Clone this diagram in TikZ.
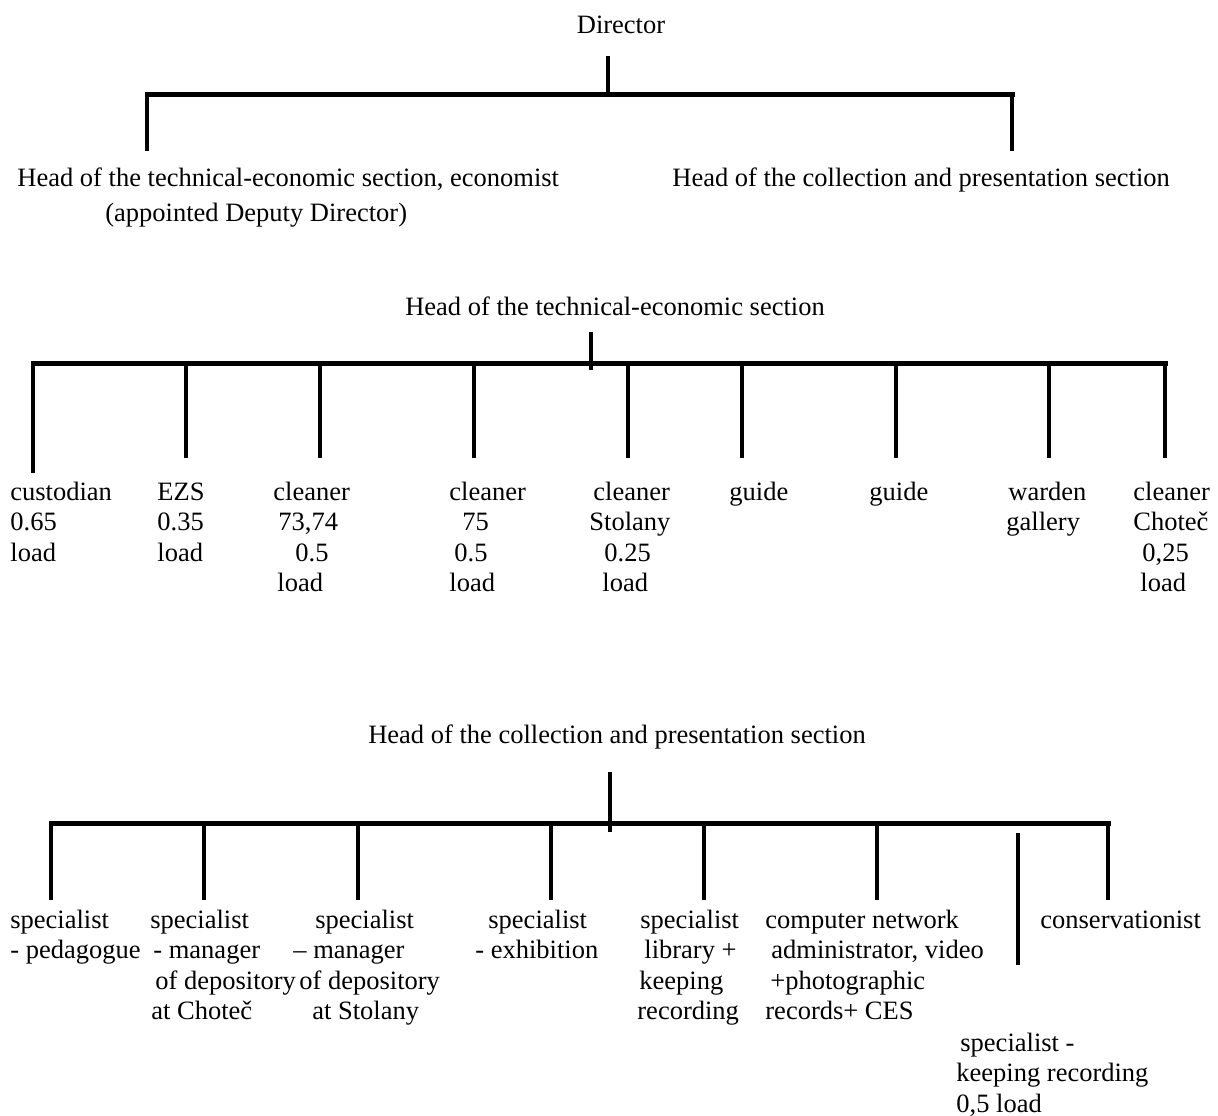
\documentclass[tikz,border=0pt]{standalone}
\usepackage{fontspec}
\setmainfont{Liberation Serif}
\newcommand{\lbltext}[1]{\begin{tabular}[t]{@{}l@{}}#1\end{tabular}}
\begin{document}
\begin{tikzpicture}[x=0.5pt, y=-0.5pt,
    every node/.style={font=\fontsize{13.25pt}{15.3pt}\selectfont},
    bus/.style={line width=2.5pt, line cap=rect},
    drop/.style={line width=2.2pt},
    head/.style={anchor=base, inner sep=0pt},
    lbl/.style={anchor=base west, inner sep=0pt}]
\useasboundingbox (0,0) rectangle (1218,1115);

% top level
\node[head] (dir) at (621,33) {Director};
\node[lbl] (deputy) at (17,186) {\lbltext{Head of the technical-economic section, economist\\[2.3pt]
    \hspace*{44pt}(appointed Deputy Director)}};
\node[lbl] (collect) at (672,186) {Head of the collection and presentation section};
\coordinate (ds) at (608,56);
\coordinate (dj) at (608,94);
\coordinate (dl) at (147,94);
\coordinate (dr) at (1012,94);
\draw[drop] (ds) -- (dj);
\draw[bus] (dl) -- (dr);
\draw[drop] (dl) -- (147,151);
\draw[drop] (dr) -- (1012,151);

% technical-economic section
\node[head] (tech) at (615,315) {Head of the technical-economic section};
\coordinate (ts) at (591,332);
\coordinate (tj) at (591,370);
\coordinate (tl) at (33,363);
\coordinate (tr) at (1165,363);
\draw[drop] (ts) -- (tj);
\draw[bus] (tl) -- (tr);
\draw[drop] (tl) -- (33,473);
\foreach \x [count=\i] in {186,320,474,628,742,896,1049,1165} {
    \coordinate (tu\i) at (\x,363);
    \coordinate (tb\i) at (\x,458);
    \draw[drop] (tu\i) -- (tb\i);
}
\node[lbl] (t1) at (10,500) {\lbltext{custodian\\0.65\\load}};
\node[lbl] (t2) at (157,500) {\lbltext{EZS\\0.35\\load}};
\node[lbl] (t3) at (273,500) {\lbltext{cleaner\\\hspace*{2.5pt}73,74\\\hspace*{11pt}0.5\\\hspace*{2pt}load}};
\node[lbl] (t4) at (449,500) {\lbltext{cleaner\\\hspace*{6.5pt}75\\\hspace*{2.5pt}0.5\\load}};
\node[lbl] (t5) at (589,500) {\lbltext{\hspace*{2pt}cleaner\\Stolany\\\hspace*{7.5pt}0.25\\\hspace*{6.5pt}load}};
\node[lbl] (t6) at (729,500) {guide};
\node[lbl] (t7) at (869,500) {guide};
\node[lbl] (t8) at (1006,500) {\lbltext{\hspace*{1pt}warden\\gallery}};
\node[lbl] (t9) at (1133,500) {\lbltext{cleaner\\Chote\v{c}\\\hspace*{4.5pt}0,25\\\hspace*{3.5pt}load}};

% collection and presentation section
\node[head] (coll) at (617,743) {Head of the collection and presentation section};
\coordinate (cs) at (610,772);
\coordinate (cj) at (610,832);
\coordinate (cl) at (51,823);
\coordinate (cr) at (1108,823);
\draw[drop] (cs) -- (cj);
\draw[bus] (cl) -- (cr);
\foreach \x [count=\i] in {51,204,358,551,704,877,1108} {
    \coordinate (cu\i) at (\x,823);
    \coordinate (cb\i) at (\x,900);
    \draw[drop] (cu\i) -- (cb\i);
}
\coordinate (ku) at (1018,833);
\coordinate (kb) at (1018,965);
\draw[drop] (ku) -- (kb);
\node[lbl] (c1) at (10,928) {\lbltext{specialist\\- pedagogue}};
\node[lbl] (c2) at (150,928) {\lbltext{specialist\\\hspace*{1.5pt}- manager\\\hspace*{2.5pt}of depository\\\hspace*{0.5pt}at Chote\v{c}}};
\node[lbl] (c3) at (293,928) {\lbltext{\hspace*{11pt}specialist\\-- manager\\\hspace*{3pt}of depository\\\hspace*{9.5pt}at Stolany}};
\node[lbl] (c4) at (475,928) {\lbltext{\hspace*{6.5pt}specialist\\- exhibition}};
\node[lbl] (c5) at (637,928) {\lbltext{\hspace*{1.5pt}specialist\\\hspace*{3.5pt}library +\\\hspace*{1pt}keeping\\recording}};
\node[lbl] (c6) at (765,928) {\lbltext{computer network\\\hspace*{3pt}administrator, video\\\hspace*{2.5pt}+photographic\\records+ CES}};
\node[lbl] (c7) at (1040,928) {conservationist};
\node[lbl] (c8) at (956,1051) {\lbltext{\hspace*{2pt}specialist -\\keeping recording\\0,5 load}};
\end{tikzpicture}
\end{document}
